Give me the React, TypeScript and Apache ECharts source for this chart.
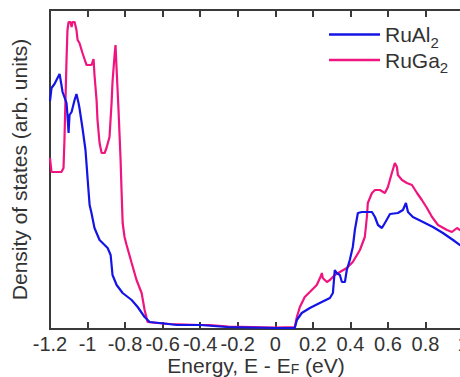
import React, { useEffect, useRef } from "react";
import * as echarts from "echarts";

// Energy (eV) and DOS (arb. units)
const ruGa2Energy = [
  -1.2, -1.192, -1.139, -1.128, -1.123, -1.112, -1.107, -1.101, -1.091, -1.085, -1.08, -1.069,
  -1.059, -1.053, -1.043, -1.027, -1.011, -1.005, -0.979, -0.968, -0.963, -0.952, -0.947, -0.936,
  -0.925, -0.909, -0.899, -0.883, -0.872, -0.867, -0.856, -0.851, -0.845, -0.835, -0.824, -0.819,
  -0.813, -0.803, -0.792, -0.765, -0.739, -0.712, -0.696, -0.68, -0.632, -0.56, -0.4, -0.35,
  -0.25, 0.0, 0.104, 0.115, 0.131, 0.157, 0.184, 0.221, 0.243, 0.248, 0.253, 0.275, 0.291, 0.317,
  0.344, 0.381, 0.413, 0.451, 0.477, 0.488, 0.493, 0.515, 0.531, 0.557, 0.584, 0.6, 0.621, 0.637,
  0.648, 0.653, 0.675, 0.701, 0.728, 0.755, 0.781, 0.808, 0.835, 0.867, 0.915, 0.941, 0.968,
  0.984, 1.0,
];
const ruGa2Dos = [
  17.1, 15.7, 15.7, 16.1, 18.9, 26.9, 29.9, 30.7, 30.7, 30.2, 30.7, 30.7,
  29.9, 28.9, 28.6, 27.6, 26.7, 26.4, 26.4, 27.0, 25.4, 22.9, 20.9, 18.6,
  17.6, 17.6, 18.1, 19.2, 22.6, 24.7, 27.4, 28.4, 25.9, 21.9, 16.9, 13.9,
  10.6, 9.2, 8.4, 6.6, 4.9, 3.6, 1.9, 0.7, 0.6, 0.5, 0.4, 0.4,
  0.25, 0.15, 0.2, 1.2, 2.2, 3.2, 3.7, 4.4, 5.3, 5.6, 5.1, 4.7, 4.9, 5.4,
  5.7, 6.1, 6.7, 7.9, 9.2, 11.2, 12.6, 13.6, 13.9, 13.9, 13.6, 14.2, 15.6, 16.6,
  16.2, 15.4, 14.9, 14.6, 14.4, 13.6, 12.9, 12.1, 11.2, 10.4, 9.9, 9.7, 10.1,
  9.9, 9.8,
];

const ruAl2Energy = [
  -1.2, -1.192, -1.176, -1.16, -1.149, -1.139, -1.133, -1.112, -1.107, -1.101, -1.096, -1.085,
  -1.069, -1.059, -1.048, -1.043, -1.027, -1.011, -1.005, -1.0, -0.989, -0.979, -0.963, -0.936,
  -0.893, -0.877, -0.867, -0.845, -0.813, -0.765, -0.733, -0.696, -0.669, -0.616, -0.525, -0.4,
  -0.259, 0.0, 0.104, 0.115, 0.141, 0.184, 0.237, 0.291, 0.307, 0.317, 0.328, 0.344, 0.355, 0.371,
  0.381, 0.397, 0.413, 0.424, 0.44, 0.461, 0.493, 0.515, 0.531, 0.547, 0.568, 0.584, 0.611, 0.653,
  0.68, 0.696, 0.707, 0.733, 0.787, 0.84, 0.893, 0.947, 0.984, 1.0,
];
const ruAl2Dos = [
  22.8, 24.1, 24.5, 25.1, 25.5, 24.4, 23.7, 22.6, 21.4, 19.6, 21.4, 21.7,
  22.9, 23.5, 22.6, 22.1, 20.1, 17.9, 16.4, 15.1, 12.4, 11.6, 10.1, 8.9,
  8.1, 7.4, 5.4, 4.4, 3.6, 2.9, 2.2, 1.2, 0.7, 0.6, 0.4, 0.4,
  0.2, 0.1, 0.1, 0.9, 1.6, 2.1, 2.6, 3.1, 3.6, 5.9, 5.6, 5.4, 4.7, 4.7,
  5.9, 6.9, 8.2, 9.9, 11.6, 11.7, 11.7, 11.7, 11.2, 10.4, 10.1, 10.6, 11.5, 11.6,
  11.9, 12.6, 11.7, 11.2, 10.7, 10.2, 9.6, 8.9, 8.4, 8.2,
];

const xMin = -1.2;
const xMax = 1.0;
const yMax = 31.9;

const seriesNames = ["RuAl2", "RuGa2"];
const seriesColors = ["#1414e6", "#f0147f"];

const zip = (xs: number[], ys: number[]) => xs.map((x, i) => [x, ys[i]]);

export default function App() {
  const ref = useRef<HTMLDivElement>(null);
  useEffect(() => {
    if (!ref.current) return;
    const chart = echarts.init(ref.current, undefined, { renderer: "svg" });
    const axisColor = "#3a3a3a";
    const fontFamily = "Liberation Sans, Arial, sans-serif";
    const fmt = (v: number) => String(Math.round(v * 10) / 10);
    chart.setOption({
      animation: false,
      title: {
        text: "Energy, E - E{s|F} (eV)",
        left: 256,
        top: 355,
        textAlign: "center",
        padding: 0,
        textStyle: {
          fontSize: 21,
          fontWeight: "normal",
          color: "#333",
          fontFamily,
          rich: { s: { fontSize: 14, color: "#333", fontFamily, padding: [7, 0, 0, 0] } },
        },
      },
      grid: { left: 50, right: 17, top: 10, bottom: 48, outerBoundsMode: "none", show: true, borderColor: axisColor, borderWidth: 2 },
      legend: {
        orient: "vertical",
        left: 324,
        top: 19,
        icon: "rect",
        itemWidth: 51,
        itemHeight: 2.5,
        itemGap: 0,
        data: seriesNames,
        formatter: (name: string) => `{n|${name.slice(0, -1)}}{s|${name.slice(-1)}}`,
        textStyle: {
          rich: {
            n: { fontSize: 21, color: "#333", lineHeight: 24, fontFamily },
            s: { fontSize: 15, color: "#333", lineHeight: 24, verticalAlign: "bottom", fontFamily, padding: [0, 0, -3, 0] },
          },
        },
      },
      xAxis: [
        {
          type: "value",
          min: xMin,
          max: xMax,
          interval: 0.2,
          position: "bottom",
          axisLine: { show: true, onZero: false, lineStyle: { color: axisColor, width: 2 } },
          axisTick: { show: true, inside: true, length: 7, lineStyle: { color: axisColor, width: 2 } },
          axisLabel: { fontSize: 20, color: "#333", margin: 5, formatter: fmt, fontFamily },
          splitLine: { show: false },
        },
        {
          type: "value",
          min: xMin,
          max: xMax,
          interval: 0.2,
          position: "top",
          axisLine: { show: true, onZero: false, lineStyle: { color: axisColor, width: 2 } },
          axisTick: { show: true, inside: true, length: 7, lineStyle: { color: axisColor, width: 2 } },
          axisLabel: { show: false },
          splitLine: { show: false },
        },
      ],
      yAxis: {
        type: "value",
        min: 0,
        max: yMax,
        name: "Density of states (arb. units)",
        nameLocation: "middle",
        nameGap: 20,
        nameTextStyle: { fontSize: 21, color: "#333", fontFamily },
        axisLine: { show: true, onZero: false, lineStyle: { color: axisColor, width: 2 } },
        axisTick: { show: false },
        axisLabel: { show: false },
        splitLine: { show: false },
      },
      series: [
        {
          name: seriesNames[0],
          type: "line",
          data: zip(ruAl2Energy, ruAl2Dos),
          symbol: "none",
          z: 3,
          lineStyle: { color: seriesColors[0], width: 2.2 },
          itemStyle: { color: seriesColors[0] },
        },
        {
          name: seriesNames[1],
          type: "line",
          data: zip(ruGa2Energy, ruGa2Dos),
          symbol: "none",
          z: 2,
          lineStyle: { color: seriesColors[1], width: 2.2 },
          itemStyle: { color: seriesColors[1] },
        },
      ],
    });
    return () => chart.dispose();
  }, []);
  return (
    <div style={{ position: "fixed", left: 0, top: 0, width: 460, height: 377, overflow: "hidden", background: "#fff" }}>
      <div ref={ref} style={{ width: 480, height: 377 }} />
    </div>
  );
}
